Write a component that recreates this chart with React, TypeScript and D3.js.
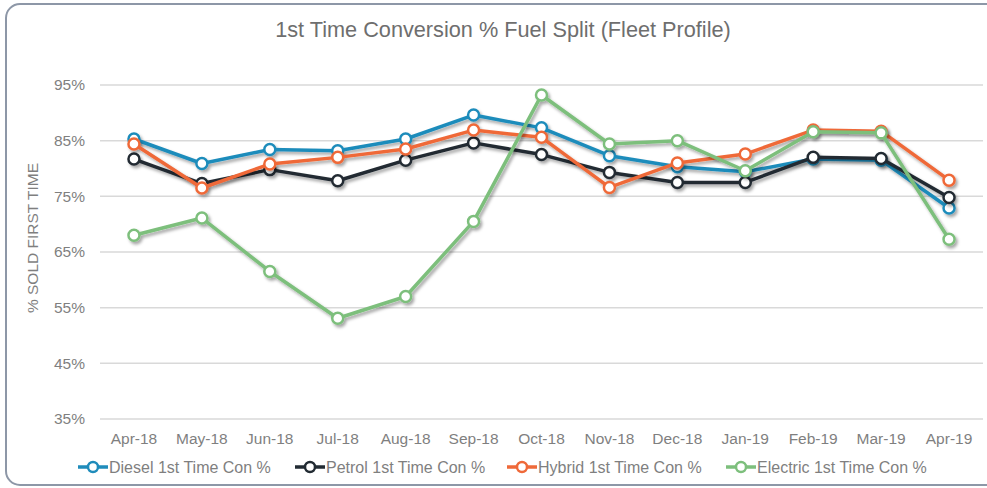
// Línea de conversión por tipo de combustible
import { useRef, useEffect } from 'react'
import * as d3 from 'd3'

const months = ['Apr-18', 'May-18', 'Jun-18', 'Jul-18', 'Aug-18', 'Sep-18', 'Oct-18', 'Nov-18', 'Dec-18', 'Jan-19', 'Feb-19', 'Mar-19', 'Apr-19']
const diesel = [85.3, 80.9, 83.4, 83.2, 85.3, 89.6, 87.3, 82.3, 80.3, 79.4, 81.7, 81.5, 72.9]
const petrol = [81.7, 77.3, 79.8, 77.8, 81.5, 84.6, 82.5, 79.3, 77.5, 77.5, 82.0, 81.8, 74.8]
const hybrid = [84.4, 76.5, 80.8, 82.0, 83.5, 86.9, 85.6, 76.6, 81.0, 82.6, 86.9, 86.7, 77.9]
const electric = [68.0, 71.1, 61.5, 53.1, 57.0, 70.5, 93.2, 84.4, 85.0, 79.6, 86.6, 86.4, 67.3]
const yTicks = [35, 45, 55, 65, 75, 85, 95]

const series = [
  { name: 'Diesel 1st Time Con %', values: diesel, color: '#1f8cbb', lx: 78 },
  { name: 'Petrol 1st Time Con %', values: petrol, color: '#222b33', lx: 295 },
  { name: 'Hybrid 1st Time Con %', values: hybrid, color: '#ef6939', lx: 507 },
  { name: 'Electric 1st Time Con %', values: electric, color: '#7dbf7c', lx: 726 },
]

const W = 987
const H = 488
const FONT = '"Liberation Sans", Arial, sans-serif'

export default function App() {
  const svgRef = useRef<SVGSVGElement>(null)

  useEffect(() => {
    const svg = d3.select(svgRef.current)
    svg.selectAll('*').remove()

    const plot = { left: 100, right: 983, top: 85, bottom: 419 }

    const x = d3.scaleBand().domain(months).range([plot.left, plot.right])
    const y = d3.scaleLinear().domain([35, 95]).range([plot.bottom, plot.top])
    const cx = (m: string) => (x(m) as number) + x.bandwidth() / 2

    // sombra de las líneas
    const defs = svg.append('defs')
    defs.append('filter').attr('id', 'shadow')
      .attr('x', '-10%').attr('y', '-10%').attr('width', '120%').attr('height', '130%')
      .append('feDropShadow')
      .attr('dx', 2).attr('dy', 2.5).attr('stdDeviation', 1.5)
      .attr('flood-color', '#000').attr('flood-opacity', 0.35)

    svg.append('rect').attr('width', W).attr('height', H).attr('fill', '#fff')

    // marco redondeado
    svg.append('rect')
      .attr('x', 6).attr('y', 4).attr('width', W + 20).attr('height', 481)
      .attr('rx', 14).attr('fill', 'none')
      .attr('stroke', '#8d97a7').attr('stroke-width', 2)

    svg.append('text')
      .attr('x', 503).attr('y', 37)
      .attr('text-anchor', 'middle')
      .attr('font-family', FONT).attr('font-size', '21.7px')
      .attr('fill', '#6e6e6e')
      .text('1st Time Conversion % Fuel Split (Fleet Profile)')

    // grilla y etiquetas eje Y
    svg.append('g').selectAll('line')
      .data(yTicks).join('line')
      .attr('x1', plot.left).attr('x2', plot.right)
      .attr('y1', d => y(d)).attr('y2', d => y(d))
      .attr('stroke', '#d9d9d9').attr('stroke-width', 1.5)

    svg.append('g').selectAll('text')
      .data(yTicks).join('text')
      .attr('x', 85).attr('y', d => y(d))
      .attr('dy', '0.35em')
      .attr('text-anchor', 'end')
      .attr('font-family', FONT).attr('font-size', '15.5px')
      .attr('fill', '#7f7f7f')
      .text(d => d + '%')

    svg.append('text')
      .attr('transform', 'translate(38, 238) rotate(-90)')
      .attr('text-anchor', 'middle')
      .attr('font-family', FONT).attr('font-size', '15.5px')
      .attr('fill', '#7f7f7f')
      .text('% SOLD FIRST TIME')

    svg.append('g').selectAll('text')
      .data(months).join('text')
      .attr('x', d => cx(d)).attr('y', 444)
      .attr('text-anchor', 'middle')
      .attr('font-family', FONT).attr('font-size', '15.5px')
      .attr('fill', '#7f7f7f')
      .text(d => d)

    const line = d3.line<number>()
      .x((d, i) => cx(months[i]))
      .y(d => y(d))

    series.forEach(s => {
      const g = svg.append('g').attr('filter', 'url(#shadow)')
      g.append('path')
        .datum(s.values)
        .attr('d', line)
        .attr('fill', 'none')
        .attr('stroke', s.color)
        .attr('stroke-width', 3.5)
        .attr('stroke-linejoin', 'round')
      g.selectAll('circle')
        .data(s.values).join('circle')
        .attr('cx', (d, i) => cx(months[i]))
        .attr('cy', d => y(d))
        .attr('r', 5.5)
        .attr('fill', '#fff')
        .attr('stroke', s.color)
        .attr('stroke-width', 2.5)
    })

    // leyenda
    const ly = 467
    const lg = svg.append('g').selectAll('g')
      .data(series).join('g')
      .attr('transform', d => `translate(${d.lx}, ${ly})`)
    lg.append('line')
      .attr('x1', 0).attr('x2', 30).attr('y1', 0).attr('y2', 0)
      .attr('stroke', d => d.color).attr('stroke-width', 3.5)
    lg.append('circle')
      .attr('cx', 15).attr('cy', 0).attr('r', 5)
      .attr('fill', '#fff')
      .attr('stroke', d => d.color).attr('stroke-width', 2.5)
    lg.append('text')
      .attr('x', 31).attr('y', 0).attr('dy', '0.35em')
      .attr('font-family', FONT).attr('font-size', '16px')
      .attr('fill', '#7f7f7f')
      .text(d => d.name)
  }, [])

  return (
    <div style={{ position: 'absolute', left: 0, top: 0 }}>
      <svg ref={svgRef} width={W} height={H} style={{ display: 'block' }} />
    </div>
  )
}
